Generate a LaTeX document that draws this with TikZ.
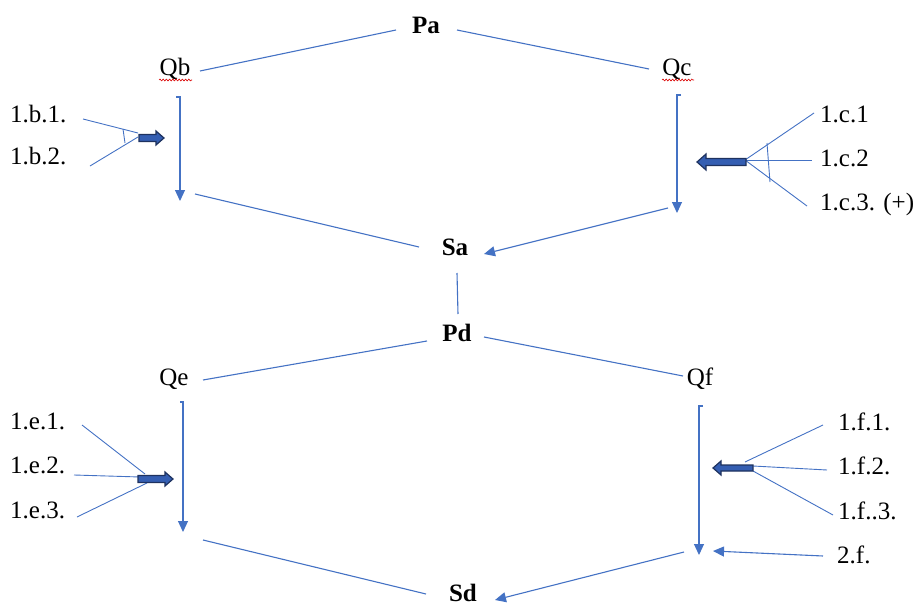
\documentclass[tikz,border=0pt]{standalone}
\usepackage{fontspec}
\setmainfont{Liberation Serif}
\usetikzlibrary{arrows.meta,decorations.pathmorphing}
\definecolor{lnblue}{RGB}{68,114,196}
\definecolor{blkfill}{RGB}{52,94,178}
\definecolor{blkdraw}{RGB}{30,50,95}
\tikzset{
  lbl/.style={inner sep=0pt,font=\fontsize{25}{29}\selectfont},
  bl/.style={lbl,font=\fontsize{25}{29}\selectfont\bfseries},
  ln/.style={draw=lnblue,line width=1.1pt},
  arr/.style={ln,-{Triangle[length=11pt,width=10pt]}},
  blk/.style={fill=blkfill,draw=blkdraw,line width=1.2pt,line join=miter},
  squig/.style={draw=red!85!black,line width=0.6pt,decorate,decoration={snake,amplitude=0.9pt,segment length=3.2pt}}
}
\begin{document}
\begin{tikzpicture}[x=1pt,y=-1pt]
\useasboundingbox (0,0) rectangle (914,605);
% main labels
\node[bl,anchor=base] (Pa) at (426,33) {Pa};
\node[lbl,anchor=base] (Qb) at (175,75) {Qb};
\node[lbl,anchor=base] (Qc) at (677,75) {Qc};
\node[bl,anchor=base] (Sa) at (455,255) {Sa};
\node[bl,anchor=base] (Pd) at (457,341) {Pd};
\node[lbl,anchor=base] (Qe) at (174,385) {Qe};
\node[lbl,anchor=base] (Qf) at (700,385) {Qf};
\node[bl,anchor=base] (Sd) at (463,601) {Sd};
% side labels
\node[lbl,anchor=base west] (b1) at (10,122) {1.b.1.};
\node[lbl,anchor=base west] (b2) at (10,164) {1.b.2.};
\node[lbl,anchor=base west] (c1) at (820,122) {1.c.1};
\node[lbl,anchor=base west] (c2) at (820,166) {1.c.2};
\node[lbl,anchor=base west] (c3) at (820,210) {1.c.3. (+)};
\node[lbl,anchor=base west] (e1) at (10,429) {1.e.1.};
\node[lbl,anchor=base west] (e2) at (10,473) {1.e.2.};
\node[lbl,anchor=base west] (e3) at (10,518) {1.e.3.};
\node[lbl,anchor=base west] (f1) at (838,430) {1.f.1.};
\node[lbl,anchor=base west] (f2) at (838,474) {1.f.2.};
\node[lbl,anchor=base west] (f3) at (838,519) {1.f..3.};
\node[lbl,anchor=base west] (f4) at (837,563) {2.f.};
% spell-check squiggles
\path[squig] (159,80) -- (192,80);
\path[squig] (662,80) -- (694,80);
% coordinates
\coordinate (paL) at (396,30); \coordinate (paR) at (457,30);
\coordinate (qbR) at (200,71); \coordinate (qcL) at (649,69);
\coordinate (qbT0) at (176,97); \coordinate (qbT) at (180,97); \coordinate (qbB) at (180,201);
\coordinate (qcT0) at (681,95); \coordinate (qcT) at (677,95); \coordinate (qcB) at (677,213);
\coordinate (sa1) at (195,194); \coordinate (saL) at (419,247);
\coordinate (sa2) at (668,208); \coordinate (saR) at (484,254);
\coordinate (saB) at (457,273); \coordinate (pdT) at (458,314);
\coordinate (pdL) at (427,341); \coordinate (pdR) at (484,337);
\coordinate (qeR) at (203,380); \coordinate (qfL) at (683,376);
\coordinate (qeT0) at (180,402); \coordinate (qeT) at (183,402); \coordinate (qeB) at (183,532);
\coordinate (qfT0) at (703,406); \coordinate (qfT) at (699,406); \coordinate (qfB) at (699,555);
\coordinate (sd1) at (203,540); \coordinate (sdL) at (426,594);
\coordinate (sd2) at (684,552); \coordinate (sdR) at (495,600);
\coordinate (f4s) at (823,556); \coordinate (f4t) at (713,551);
% top structure
\draw[ln] (paL) -- (qbR);
\draw[ln] (paR) -- (qcL);
\draw[arr] (qbT0) -- (qbT) -- (qbB);
\draw[arr] (qcT0) -- (qcT) -- (qcB);
\draw[ln] (sa1) -- (saL);
\draw[arr] (sa2) -- (saR);
\draw[ln] (saB) -- (pdT);
% bottom structure
\draw[ln] (pdL) -- (qeR);
\draw[ln] (pdR) -- (qfL);
\draw[arr] (qeT0) -- (qeT) -- (qeB);
\draw[arr] (qfT0) -- (qfT) -- (qfB);
\draw[ln] (sd1) -- (sdL);
\draw[arr] (sd2) -- (sdR);
\draw[arr] (f4s) -- (f4t);
% 1.b fan
\coordinate (b1s) at (83,119); \coordinate (b1e) at (138,133);
\coordinate (b2s) at (90,166); \coordinate (b2e) at (138,137);
\coordinate (bx1) at (123,129); \coordinate (bx2) at (125,143);
\draw[ln,line width=0.9pt] (b1s) -- (b1e);
\draw[ln,line width=0.9pt] (b2s) -- (b2e);
\draw[ln,line width=0.9pt] (bx1) -- (bx2);
\draw[blk] (139,134.5) -- (156,134.5) -- (156,131) -- (164,138) -- (156,145) -- (156,141.5) -- (139,141.5) -- cycle;
% 1.c fan
\coordinate (co) at (745,160);
\coordinate (c1e) at (814,113); \coordinate (c2e) at (812,160); \coordinate (c3e) at (807,206);
\coordinate (cx1) at (767,143); \coordinate (cx2) at (770,182);
\draw[ln,line width=0.9pt] (co) -- (c1e);
\draw[ln,line width=0.9pt] (co) -- (c2e);
\draw[ln,line width=0.9pt] (co) -- (c3e);
\draw[ln,line width=0.9pt] (cx1) -- (cx2);
\draw[blk] (746,158.5) -- (706,158.5) -- (706,154) -- (697,162) -- (706,170) -- (706,165.5) -- (746,165.5) -- cycle;
% 1.e fan
\coordinate (e1s) at (82,425); \coordinate (e1e) at (145,474);
\coordinate (e2s) at (74,475); \coordinate (e2e) at (140,477);
\coordinate (e3s) at (77,517); \coordinate (e3e) at (147,483);
\draw[ln,line width=0.9pt] (e1s) -- (e1e);
\draw[ln,line width=0.9pt] (e2s) -- (e2e);
\draw[ln,line width=0.9pt] (e3s) -- (e3e);
\draw[blk] (138,475.5) -- (165,475.5) -- (165,472) -- (173,479) -- (165,486) -- (165,482.5) -- (138,482.5) -- cycle;
% 1.f fan
\coordinate (f1s) at (745,462); \coordinate (f1e) at (823,425);
\coordinate (f2s) at (753,466); \coordinate (f2e) at (827,470);
\coordinate (f3s) at (753,471); \coordinate (f3e) at (833,515);
\draw[ln,line width=0.9pt] (f1s) -- (f1e);
\draw[ln,line width=0.9pt] (f2s) -- (f2e);
\draw[ln,line width=0.9pt] (f3s) -- (f3e);
\draw[blk] (753,465) -- (721,465) -- (721,461) -- (713,468) -- (721,475) -- (721,471) -- (753,471) -- cycle;
\end{tikzpicture}
\end{document}
